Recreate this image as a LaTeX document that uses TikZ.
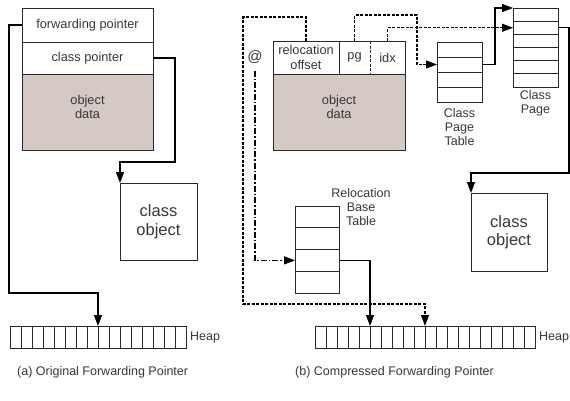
\documentclass[tikz,border=0pt]{standalone}
\usepackage{fontspec}
\setmainfont{Liberation Sans}
\usetikzlibrary{arrows.meta}
\definecolor{txt}{RGB}{55,55,55}
\definecolor{boxc}{RGB}{40,40,40}
\definecolor{objfill}{RGB}{212,201,196}
\begin{document}
\begin{tikzpicture}[x=1pt,y=-1pt,
  box/.style={draw=boxc,line width=0.9pt,inner sep=0pt,outer sep=0pt,text=txt,
    font=\fontsize{12.8}{14.5}\selectfont,align=center},
  nobox/.style={inner sep=0pt,outer sep=0pt,text=txt,
    font=\fontsize{12.8}{14.5}\selectfont,align=center},
  cell/.style={draw=boxc,line width=0.8pt,minimum width=11pt,minimum height=22pt,inner sep=0pt,outer sep=0pt},
  tab/.style={draw=boxc,line width=0.8pt,minimum width=45pt,minimum height=15pt,inner sep=0pt,outer sep=0pt},
  lbl/.style={text=txt,font=\fontsize{12.5}{14}\selectfont,align=center,inner sep=0pt},
  arr/.style={-{Triangle[length=11pt,width=8pt]},line width=1.2pt,black},
  dsh/.style={line width=1.2pt,dash pattern=on 3pt off 1.5pt},
  dd/.style={line width=1.2pt,dash pattern=on 6pt off 2pt on 1.5pt off 2pt}]
\useasboundingbox (0,0) rectangle (570,400);

% ---------- (a) ----------
\node[box,minimum width=131pt,minimum height=34pt] (fp) at (87.5,25) {forwarding pointer};
\node[box,minimum width=131pt,minimum height=32pt] (cp) at (87.5,58) {class pointer};
\node[box,fill=objfill,minimum width=131pt,minimum height=76pt] (od) at (87.5,112) {};
\node[nobox] (odt) at (87.5,107) {object\\data};
\node[box,minimum width=77pt,minimum height=77pt,font=\fontsize{16.5}{18.5}\selectfont] (co1) at (158.5,221.5) {class\\object};
\foreach \i in {1,...,16} \node[cell] (hl\i) at ({10+11*(\i-0.5)},337) {};
\node[lbl,anchor=west] (hpl) at ([xshift=4pt]hl16.east) {Heap};
\node[lbl,anchor=west] (capa) at (17,372) {(a) Original Forwarding Pointer};

\draw[arr] (fp.west) -| (9,293) -| (hl8.north east);
\draw[arr] (cp.east) -| (175,162) -| (co1.north west);

% ---------- (b) ----------
\node[nobox,minimum width=66pt,minimum height=33pt] (ro) at (306,57.5) {relocation\\offset};
\node[nobox,minimum width=31pt,minimum height=33pt] (pg) at (354.5,57.5) {pg};
\node[nobox,minimum width=35pt,minimum height=33pt] (idx) at (387.5,57.5) {idx};
\draw[draw=boxc,line width=0.9pt] (ro.north west) rectangle (idx.south east);
\draw[draw=boxc,line width=0.9pt] (ro.north east) -- (ro.south east);
\draw[draw=boxc,line width=0.9pt,dash pattern=on 3pt off 1.5pt] (pg.north east) -- (pg.south east);
\node[box,fill=objfill,minimum width=132pt,minimum height=76pt] (od2) at (339,112) {};
\node[nobox] (od2t) at (339,107) {object\\data};

\node[text=txt,font=\fontsize{15}{17}\selectfont,inner sep=1pt] (at) at (255,57) {@};

\foreach \i in {1,...,4} \node[tab] (cpt\i) at (459.5,{42+15*(\i-0.5)}) {};
\node[lbl] (cptl) at (459.5,127) {Class\\Page\\Table};
\foreach \i in {1,...,6} \node[tab,minimum height=13.17pt] (cpg\i) at (535.5,{8+13.17*(\i-0.5)}) {};
\node[lbl] (cpgl) at (535.5,103.5) {Class\\Page};

\node[box,minimum width=76pt,minimum height=78pt,font=\fontsize{16.5}{18.5}\selectfont] (co2) at (509,232) {class\\object};

\foreach \i in {1,...,4} \node[tab,minimum width=44pt,minimum height=21.75pt] (rbt\i) at (317,{206+21.75*(\i-0.5)}) {};
\node[lbl] (rbtl) at (361,207) {Relocation\\Base\\Table};

\foreach \i in {1,...,20} \node[cell] (hr\i) at ({315+11*(\i-0.5)},337) {};
\node[lbl,anchor=west] (hpr) at ([xshift=4pt]hr20.east) {Heap};
\node[lbl,anchor=west] (capb) at (295,372) {(b) Compressed Forwarding Pointer};

\draw[arr,dsh] (ro.north) |- (243,17) -- (243,304) -| (hr10.north east);
\draw[arr,dsh] (pg.north) |- (417,15) |- (cpt2.west);
\draw[arr,dsh] (idx.north) |- (cpg2.west);
\draw[arr] (cpt2.east) -| (495,30) |- (cpg1.north west);
\draw[arr] (cpg2.east) -| (569,173) -| (co2.north west);
\draw[arr,dd,shorten <=6pt] (at.south) |- (rbt3.west);
\draw[arr] (rbt3.east) -| (hr5.north east);
\end{tikzpicture}
\end{document}
